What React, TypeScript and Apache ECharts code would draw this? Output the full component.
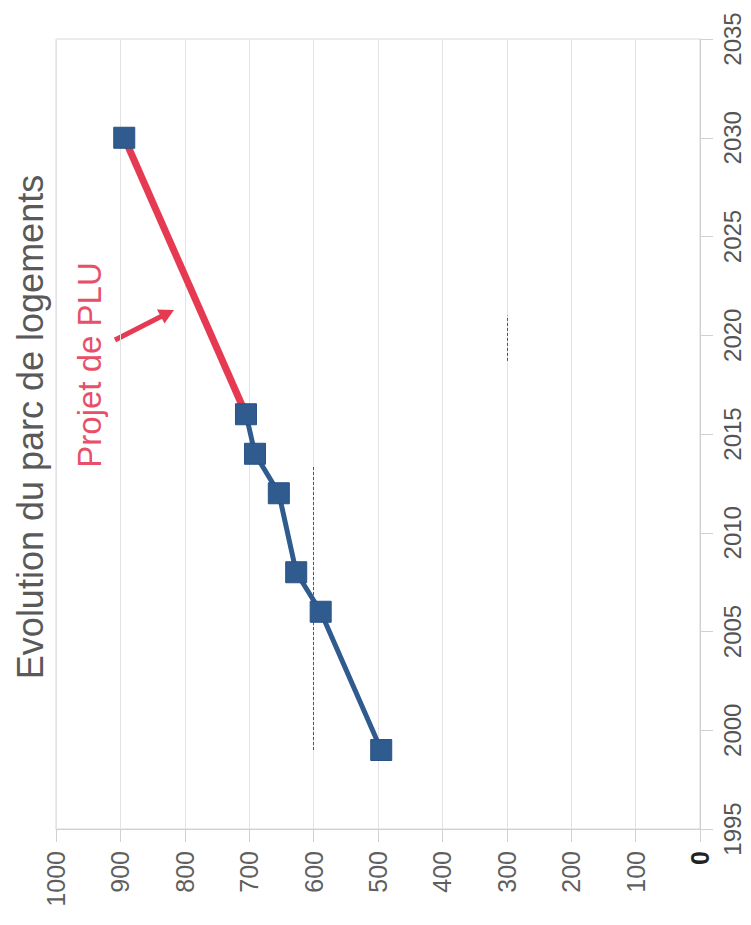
import React, { useEffect, useRef } from "react";
import * as echarts from "echarts";

const years = [1999, 2006, 2008, 2012, 2014, 2016];
const logements = [495, 589, 627, 654, 691, 705];
const projectionYears = [2016, 2030];
const projectionValues = [705, 894];
const targetYear = [2030];
const targetValue = [894];
const valueTicks = [0, 100, 200, 300, 400, 500, 600, 700, 800, 900, 1000];
const yearTicks = [1995, 2000, 2005, 2010, 2015, 2020, 2025, 2030, 2035];

const FONT = "'Liberation Sans', Arial, sans-serif";

export default function App() {
  const ref = useRef<HTMLDivElement>(null);
  useEffect(() => {
    if (!ref.current) return;
    const chart = echarts.init(ref.current, null, { renderer: "svg" });
    const blue = years.map((y, i) => [logements[i], y]);
    const red = projectionYears.map((y, i) => [projectionValues[i], y]);
    const target = targetYear.map((y, i) => [targetValue[i], y]);
    chart.setOption({
      animation: false,
      textStyle: { fontFamily: FONT },
      grid: {
        left: 56,
        right: 51,
        top: 39,
        bottom: 96,
        show: true,
        borderColor: "#d9d9d9",
        borderWidth: 1,
      },
      xAxis: {
        type: "value",
        inverse: true,
        min: valueTicks[0],
        max: valueTicks[valueTicks.length - 1],
        interval: 100,
        axisLine: { show: true, onZero: false, lineStyle: { color: "#d0d0d0" } },
        axisTick: { show: true, length: 13, lineStyle: { color: "#d0d0d0" } },
        splitLine: { show: true, lineStyle: { color: "#e3e3e3" } },
        axisLabel: {
          rotate: 90,
          margin: 22,
          fontSize: 25,
          color: "#5f5f5f",
          fontFamily: FONT,
          formatter: (v: number) => (v === 0 ? "{z|0}" : String(v)),
          rich: { z: { color: "#222", fontSize: 25, fontWeight: "bold", fontFamily: FONT } },
        },
      },
      yAxis: {
        type: "value",
        position: "right",
        min: yearTicks[0],
        max: yearTicks[yearTicks.length - 1],
        interval: 5,
        axisLine: { show: true, onZero: false, lineStyle: { color: "#d0d0d0" } },
        axisTick: { show: true, length: 13, lineStyle: { color: "#d0d0d0" } },
        splitLine: { show: false },
        axisLabel: {
          rotate: 90,
          margin: 20,
          fontSize: 24,
          color: "#555555",
          fontFamily: FONT,
          formatter: (v: number) => String(v),
        },
      },
      series: [
        {
          type: "line",
          data: red,
          symbol: "none",
          lineStyle: { color: "#e63a52", width: 7 },
          z: 2,
          markLine: {
            silent: true,
            symbol: "none",
            label: { show: false },
            lineStyle: { color: "#555", width: 1, type: [3, 2] },
            data: [
              [{ coord: [600, 1999] }, { coord: [600, 2013.4] }],
              [{ coord: [300, 2018.7] }, { coord: [300, 2021] }],
            ],
          },
        },
        {
          type: "line",
          data: blue,
          symbol: "rect",
          symbolSize: 21,
          itemStyle: { color: "#2f5b8e", borderColor: "#2a5286", borderWidth: 1 },
          lineStyle: { color: "#2f5b8e", width: 5 },
          z: 3,
        },
        {
          type: "scatter",
          data: target,
          symbol: "rect",
          symbolSize: 21,
          itemStyle: { color: "#2f5b8e", borderColor: "#2a5286", borderWidth: 1, opacity: 1 },
          z: 4,
        },
      ],
      graphic: [
        {
          type: "text",
          x: 30,
          y: 427,
          rotation: Math.PI / 2,
          style: {
            text: "Evolution du parc de logements",
            fontSize: 36,
            fontFamily: FONT,
            fill: "#595959",
            align: "center",
            verticalAlign: "middle",
          },
        },
        {
          type: "text",
          x: 89,
          y: 365,
          rotation: Math.PI / 2,
          style: {
            text: "Projet de PLU",
            fontSize: 33,
            fontFamily: FONT,
            fill: "#e8506a",
            align: "center",
            verticalAlign: "middle",
          },
        },
        {
          type: "line",
          shape: { x1: 115, y1: 340, x2: 162, y2: 316 },
          style: { stroke: "#e63a52", lineWidth: 5 },
        },
        {
          type: "polygon",
          shape: { points: [[174, 310], [164.5, 323.5], [157, 309.5]] },
          style: { fill: "#e63a52" },
        },
      ],
    });
    return () => chart.dispose();
  }, []);
  return (
    <div
      ref={ref}
      style={{ position: "absolute", left: 0, top: 0, width: 751, height: 925 }}
    />
  );
}
